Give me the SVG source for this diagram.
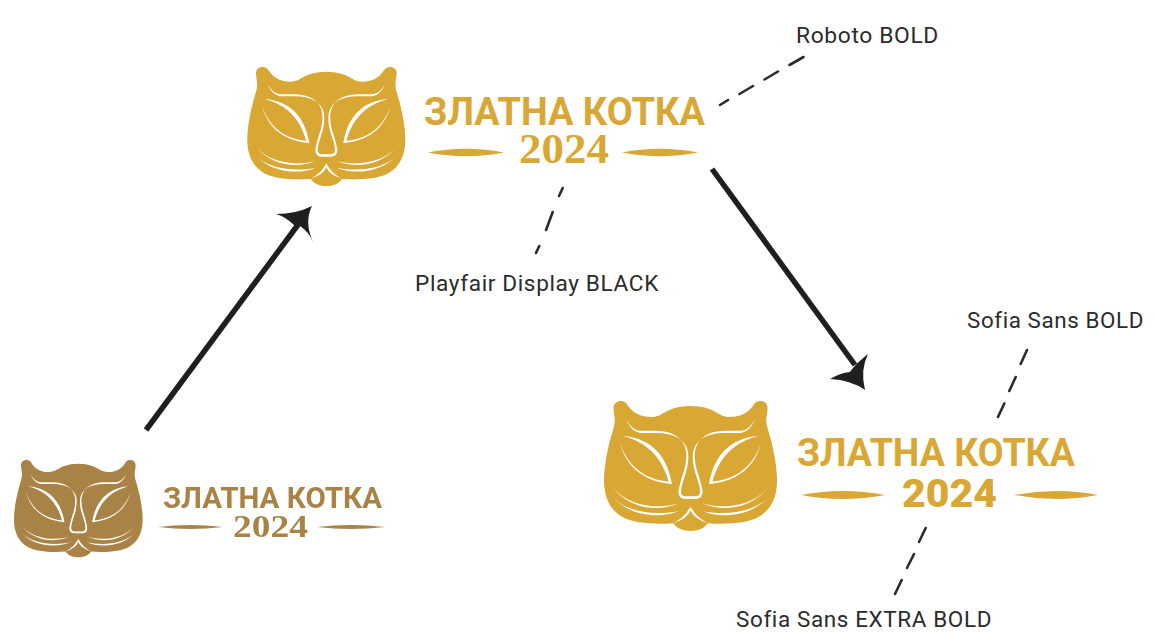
<svg xmlns="http://www.w3.org/2000/svg" width="1156" height="637" viewBox="0 0 1156 637">
<style>
.gold{fill:#d9a733}
.old{fill:#a98244}
.lab{font-family:Roboto,"Liberation Sans",sans-serif;font-size:22px;fill:#2b2b2b;letter-spacing:.6px}
.name{font-family:Roboto,"Liberation Sans",sans-serif;font-weight:700;font-size:38px}
.year{font-family:"Liberation Serif",serif;font-weight:700;font-size:42px}
.dash{fill:none;stroke:#2b2b2b;stroke-width:2.6;stroke-linecap:round}
.arrow{fill:none;stroke:#1f1f1f;stroke-width:5.5}
.head{fill:#1f1f1f}
</style>
<defs>
<g id="half" fill="#fff">
<path d="M82,86Q98,115 120,118L165,118Q237,120 247,175Q250,205 237,240Q225,280 226,288Q228,305 245,305L262,305V298H248Q233,298 233,285Q233,270 244,240Q256,205 252,175Q240,125 165,124H120Q95,118 82,86Z"/>
<path d="M74,132C150,138 195,185 208,264L200,262C182,190 140,150 74,132Z"/>
<path d="M66,152C85,225 140,258 208,264L202,258C140,252 90,222 66,152Z"/>
<path d="M46,274C90,325 170,335 228,317C170,342 95,333 46,274Z"/>
<path d="M49,303C90,345 170,350 228,338C175,360 95,353 49,303Z"/>
<path d="M212,371Q245,355 259,325V337Q250,360 212,371Z"/>
</g>
<path id="headshape" d="M48,55C48,42 58,36 68,36C80,36 85,44 90,52C102,70 125,80 150,80C175,80 185,66 205,59C222,53 240,50 259,50C278,50 296,53 313,59C333,66 343,80 368,80C393,80 416,70 428,52C433,44 438,36 450,36C460,36 470,42 470,55C470,75 462,85 470,110C485,160 496,210 496,255C496,300 480,335 445,355C415,372 360,376 306,372C295,388 278,393 259,393C240,393 223,388 212,372C158,376 103,372 73,355C38,335 22,300 22,255C22,210 33,160 48,110C56,85 48,75 48,55Z"/>
<g id="face">
<use href="#half"/>
<use href="#half" transform="matrix(-1 0 0 1 518 0)"/>
</g>
<filter id="soft" x="-5%" y="-5%" width="110%" height="110%"><feGaussianBlur stdDeviation=".45"/></filter>
</defs>

<g id="connectors">
<path class="arrow" d="M146,430L300,222"/>
<path class="head" d="M276,214Q296,214 312,206Q304,222 313,242Q309,232 300,226L294,225Q286,217 276,214Z"/>
<path class="arrow" d="M712,169L855,365"/>
<path class="head" d="M830,379Q851,380 865,390Q860,370 868,354Q858,362 853,368L850,372Q840,373 830,379Z"/>
<path class="dash" d="M720,105L728,100M739.500,94L753,86M764.500,79.500L778,71.500M789.500,65L803.500,57"/>
<path class="dash" d="M562.700,188L559,196M552.700,212L546,230M539.300,246L536,253"/>
<path class="dash" d="M1027,350L1020.700,364M1015.700,377L1009.300,391M1004.300,403.500L998,417"/>
<path class="dash" d="M925.700,528L919,542M914,554L907,568M901.700,580L895,594"/>
</g>

<g id="logo-old" filter="url(#soft)">
<g transform="translate(8,450.200) scale(.2715,.2726)" class="old"><use href="#headshape"/><use href="#face"/></g>
<text class="name old" x="163" y="508" style="font-size:29px" textLength="219" lengthAdjust="spacingAndGlyphs">ЗЛАТНА КОТКА</text>
<text class="year old" x="233" y="537" style="font-size:31px" textLength="75" lengthAdjust="spacingAndGlyphs">2024</text>
<path class="old" d="M158,527Q190,523 223,527Q190,531 158,527Z"/>
<path class="old" d="M317,527Q350,523 385,527Q350,531 317,527Z"/>
</g>

<g id="logo-playfair">
<g transform="translate(240,55) scale(.3333)" class="gold"><use href="#headshape"/><use href="#face"/></g>
<text class="name gold" x="424" y="125" textLength="281" lengthAdjust="spacingAndGlyphs">ЗЛАТНА КОТКА</text>
<text class="year gold" x="519" y="163" textLength="90" lengthAdjust="spacingAndGlyphs">2024</text>
<path class="gold" d="M428,152.500Q466,145 504,152.500Q466,160 428,152.500Z"/>
<path class="gold" d="M622,152.500Q660,145 698,152.500Q660,160 622,152.500Z"/>
</g>

<g id="logo-sofia">
<g transform="translate(596,387.900) scale(.365,.364)" class="gold"><use href="#headshape"/><use href="#face"/></g>
<text class="name gold" x="797" y="466" textLength="278" lengthAdjust="spacingAndGlyphs">ЗЛАТНА КОТКА</text>
<text class="name gold" x="902" y="507" style="font-weight:900" textLength="95" lengthAdjust="spacingAndGlyphs">2024</text>
<path class="gold" d="M801,495Q843,487 885,495Q843,503 801,495Z"/>
<path class="gold" d="M1014,495Q1056,487 1098,495Q1056,503 1014,495Z"/>
</g>

<g id="labels">
<text class="lab" x="796" y="43" textLength="143" lengthAdjust="spacingAndGlyphs">Roboto BOLD</text>
<text class="lab" x="415" y="291" textLength="244" lengthAdjust="spacingAndGlyphs">Playfair Display BLACK</text>
<text class="lab" x="967" y="328" textLength="177" lengthAdjust="spacingAndGlyphs">Sofia Sans BOLD</text>
<text class="lab" x="736" y="627" textLength="256" lengthAdjust="spacingAndGlyphs">Sofia Sans EXTRA BOLD</text>
</g>
</svg>
